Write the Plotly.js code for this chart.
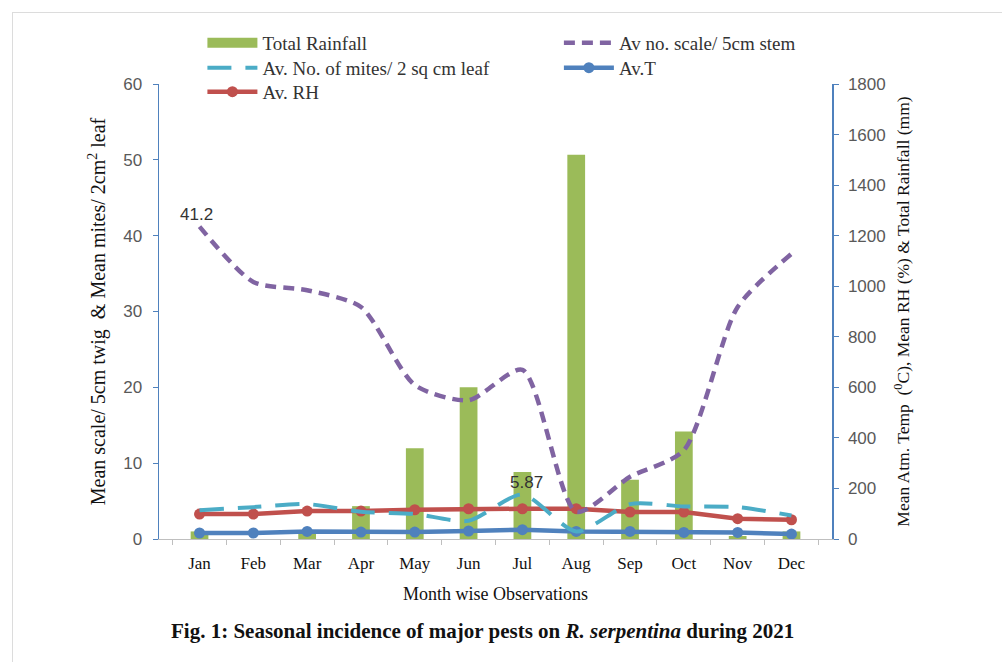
<!DOCTYPE html>
<html>
<head>
<meta charset="utf-8">
<script src="https://cdn.plot.ly/plotly-3.0.1.min.js"></script>
<style>
  html, body { margin: 0; padding: 0; background: #fff; }
  #wrap { position: relative; width: 1002px; height: 662px; overflow: hidden; }
  #chart { position: absolute; left: 0; top: 0; width: 1002px; height: 662px; }
  #frame { position: absolute; left: 12px; top: 12px; width: 1000px; height: 660px;
           border-top: 1.5px solid #dcdcdc; border-left: 1.5px solid #dcdcdc; pointer-events: none; }
</style>
</head>
<body>
<div id="wrap">
  <div id="chart"></div>
  <div id="frame"></div>
</div>
<script>
// ---- data ----
const months   = ['Jan','Feb','Mar','Apr','May','Jun','Jul','Aug','Sep','Oct','Nov','Dec'];
const rainfall = [30, 0, 20, 130, 359, 600, 265, 1520, 234, 425, 12, 30];          // mm (right axis)
const scale    = [41.2, 33.9, 32.8, 30.6, 20.3, 18.3, 22.3, 3.6, 8.2, 11.7, 30.6, 37.6]; // left axis
const mites    = [3.8, 4.2, 4.6, 3.6, 3.3, 2.4, 5.87, 1.0, 4.6, 4.3, 4.2, 3.1];     // left axis
const temp     = [23.7, 23.7, 30, 27.6, 27.6, 31.6, 36.7, 30, 30, 26, 26, 19.7];    // right axis
const rh       = [98.7, 98.7, 110.6, 110.6, 115.7, 119.7, 119.7, 120, 106.6, 106.6, 80.2, 76.2]; // right axis

const leftTicks  = [0, 10, 20, 30, 40, 50, 60];
const rightTicks = [0, 200, 400, 600, 800, 1000, 1200, 1400, 1600, 1800];

const serif = 'Liberation Serif, Times New Roman, serif';
const sans  = 'Liberation Sans, Arial, sans-serif';
const axisBlue = '#4F81BD';

const traces = [
  { type: 'bar', name: 'Total Rainfall', x: months, y: rainfall, yaxis: 'y',
    marker: { color: '#9BBB59' }, showlegend: false, width: 0.33 },
  // legend proxy for the bar series (wide swatch as in the reference)
  { type: 'scatter', mode: 'lines', name: 'Total Rainfall', x: [null], y: [null], yaxis: 'y',
    line: { color: '#9BBB59', width: 11 }, legend: 'legend' },
  { type: 'scatter', mode: 'lines', name: 'Av no. scale/ 5cm stem', x: months, y: scale, yaxis: 'y2',
    line: { color: '#8064A2', width: 4.5, dash: '11px,7px', shape: 'spline', smoothing: 0.7 }, legend: 'legend2' },
  { type: 'scatter', mode: 'lines', name: 'Av. No. of mites/ 2 sq cm leaf', x: months, y: mites, yaxis: 'y2',
    line: { color: '#4BACC6', width: 4, dash: '24px,14px', shape: 'spline', smoothing: 0.7 }, legend: 'legend3' },
  { type: 'scatter', mode: 'lines+markers', name: 'Av.T', x: months, y: temp, yaxis: 'y',
    line: { color: '#4F81BD', width: 4.5 }, marker: { color: '#4F81BD', size: 11 }, legend: 'legend4' },
  { type: 'scatter', mode: 'lines+markers', name: 'Av. RH', x: months, y: rh, yaxis: 'y',
    line: { color: '#C0504D', width: 4.5 }, marker: { color: '#C0504D', size: 11 }, legend: 'legend5' }
];

function leg(x, y) {
  return { x: x, xanchor: 'left', y: y, yanchor: 'middle', orientation: 'v', itemwidth: 50,
           bgcolor: 'rgba(0,0,0,0)', borderwidth: 0,
           font: { family: serif, size: 19, color: '#333' } };
}
const col1 = 0.0645, col2 = 0.5942;
const row1 = 1.0903, row2 = 1.0355, row3 = 0.9829;

const layout = {
  width: 1002, height: 662,
  paper_bgcolor: 'rgba(0,0,0,0)', plot_bgcolor: 'rgba(0,0,0,0)',
  margin: { l: 159, r: 170, t: 83.5, b: 122.7, pad: 0 },
  showlegend: true,
  font: { family: serif, color: '#000' },
  xaxis: {
    type: 'category', tickson: 'boundaries', ticks: 'outside', ticklen: 5, tickcolor: '#BFBFBF',
    showline: true, linecolor: '#BFBFBF', linewidth: 1, showgrid: false, zeroline: false,
    ticklabelstandoff: 9,
    tickfont: { family: serif, size: 17, color: '#111' },
    title: { text: 'Month wise Observations', font: { family: serif, size: 18, color: '#111' }, standoff: 14 }
  },
  yaxis: {
    side: 'right', range: [0, 1800], tickvals: rightTicks, ticktext: rightTicks.map(String),
    ticks: 'outside', ticklen: 5, tickcolor: axisBlue, showline: true, linecolor: axisBlue, linewidth: 1.5,
    showgrid: false, zeroline: false, ticklabelstandoff: 6,
    tickfont: { family: sans, size: 17, color: '#595959' },
    title: { text: 'Mean Atm. Temp  (<sup>0</sup>C), Mean RH (%) & Total Rainfall (mm)',
             font: { family: serif, size: 17.5, color: '#111' }, standoff: 12 }
  },
  yaxis2: {
    overlaying: 'y', side: 'left', range: [0, 60], tickvals: leftTicks, ticktext: leftTicks.map(String),
    ticks: 'outside', ticklen: 5, tickcolor: axisBlue, showline: true, linecolor: axisBlue, linewidth: 1.5,
    showgrid: false, zeroline: false, ticklabelstandoff: 7,
    tickfont: { family: sans, size: 17, color: '#595959' },
    title: { text: 'Mean scale/ 5cm twig  & Mean mites/ 2cm<sup>2</sup> leaf',
             font: { family: serif, size: 20, color: '#111' }, standoff: 12 }
  },
  legend:  leg(col1, row1),
  legend2: leg(col2, row1),
  legend3: leg(col1, row2),
  legend4: leg(col2, row2),
  legend5: leg(col1, row3),
  annotations: [
    { x: months[0], y: scale[0], xref: 'x', yref: 'y2', text: String(scale[0]), showarrow: false,
      xshift: -3, yshift: 12, font: { family: sans, size: 17, color: '#333' } },
    { x: months[6], y: mites[6], xref: 'x', yref: 'y2', text: String(mites[6]), showarrow: false,
      xshift: 4, yshift: 12, font: { family: sans, size: 17, color: '#333' } },
    { x: 0.48, y: -0.203, xref: 'paper', yref: 'paper', xanchor: 'center', yanchor: 'middle', showarrow: false,
      text: '<b>Fig. 1: Seasonal incidence of major pests on <i>R. serpentina</i> during 2021</b>',
      font: { family: serif, size: 21, color: '#111' } }
  ]
};

Plotly.newPlot('chart', traces, layout, { staticPlot: true, displayModeBar: false });
</script>
</body>
</html>
